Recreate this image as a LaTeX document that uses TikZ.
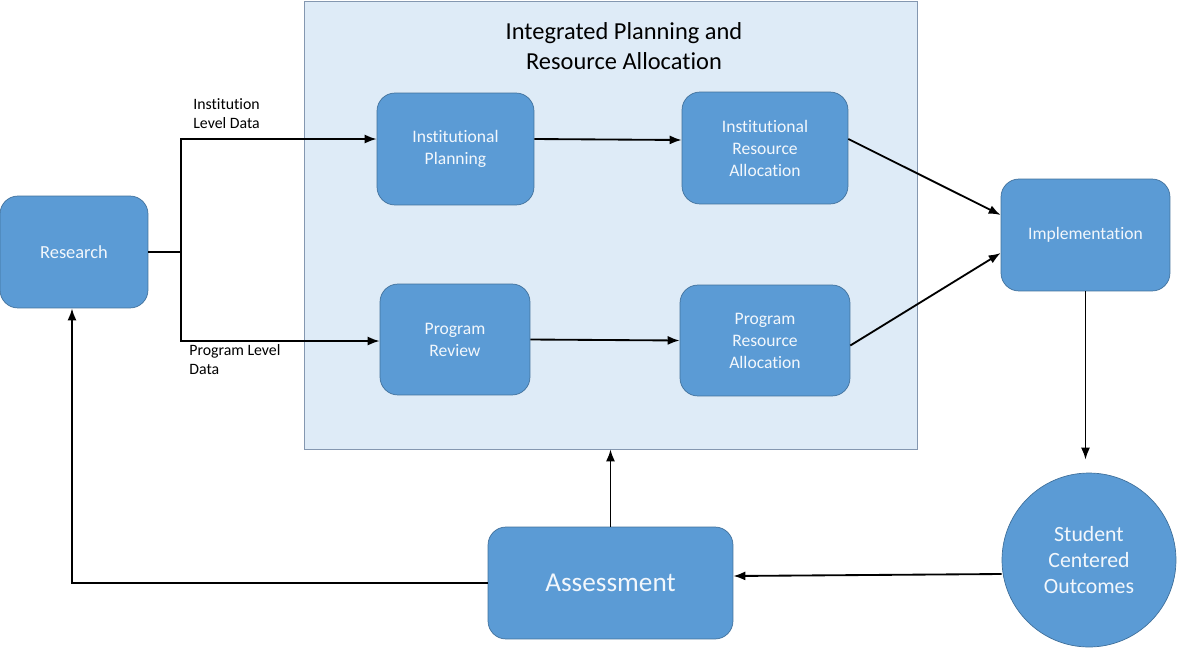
\documentclass[tikz,border=0pt]{standalone}
\usepackage{fontspec}
\setmainfont{Carlito}[Ligatures=NoCommon]
\usetikzlibrary{arrows.meta}
\definecolor{boxblue}{HTML}{5B9BD5}
\definecolor{boxline}{HTML}{41719C}
\definecolor{panel}{HTML}{DEEBF7}
\definecolor{panelline}{HTML}{8497B0}
\definecolor{boxtext}{HTML}{F2F7FC}
\tikzset{
  blk/.style={draw=boxline, fill=boxblue, rounded corners=0.36cm, minimum height=2.24cm,
    text=boxtext, align=center, font=\fontsize{10}{12.5}\selectfont},
  lbl/.style={align=left, anchor=north west, inner sep=0pt, font=\fontsize{9}{10.8}\selectfont},
  conn/.style={line width=1.05pt}
}
\begin{document}
\begin{tikzpicture}[x=0.02cm, y=-0.02cm, >={Latex[length=2.4mm,width=1.8mm]}]
\useasboundingbox (0,0) rectangle (1178,647);
% planning panel
\node[draw=panelline, fill=panel, minimum width=12.26cm, minimum height=8.96cm, inner sep=0pt] (panel) at (610.5,225) {};
\node[align=center, font=\fontsize{13.9}{17}\selectfont] (title) at (624,46) {Integrated Planning and\\Resource Allocation};

% boxes
\node[blk, minimum width=2.96cm, font=\fontsize{10.5}{12.5}\selectfont] (res) at (74,252) {Research};
\node[blk, minimum width=3.14cm] (ipl) at (455.5,149) {Institutional\\Planning};
\node[blk, minimum width=3.32cm] (ira) at (765,148) {Institutional\\Resource\\Allocation};
\node[blk, minimum width=3.0cm, minimum height=2.22cm] (prv) at (455,339.5) {Program\\Review};
\node[blk, minimum width=3.4cm, minimum height=2.22cm] (pra) at (765,340.5) {Program\\Resource\\Allocation};
\node[blk, minimum width=3.38cm] (imp) at (1085.5,235) {Implementation};
\node[draw=boxline, fill=boxblue, circle, minimum size=3.48cm, text=boxtext, align=center,
  font=\fontsize{12.4}{14.7}\selectfont] (sco) at (1089,560) {Student\\Centered\\Outcomes};
\node[blk, minimum width=4.9cm, font=\fontsize{15.5}{18}\selectfont] (asm) at (610.5,583) {Assessment};

% data labels
\node[lbl] (ild) at (193,98) {Institution\\Level Data};
\node[lbl] (pld) at (189,344) {Program Level\\Data};

% research split
\coordinate (split) at (181,252);
\draw[conn] (res.east) -- (split);
\draw[conn,->] (split) |- ([yshift=0.2cm]ipl.west);
\draw[conn,->] (split) |- ([yshift=-0.03cm]prv.west);

% planning to allocation
\draw[conn,->] ([yshift=0.2cm]ipl.east) -- ([yshift=0.16cm]ira.west);
\draw[conn,->] (prv.east) -- (pra.west);

% allocation to implementation
\draw[conn,->] ([yshift=0.18cm]ira.east) -- ([yshift=0.4cm]imp.west);
\draw[conn,->] ([yshift=-0.1cm]pra.east) -- ([yshift=-0.36cm]imp.west);

% outcomes loop
\draw[conn,->] (imp.south) -- ([yshift=0.26cm]sco.north -| imp.south);
\draw[conn,->] ([yshift=-0.28cm]sco.west) -- ([yshift=0.14cm]asm.east);
\draw[conn,->] (asm.north) -- (asm.north |- panel.south);
\draw[conn,->] (asm.west) -| ([xshift=-0.04cm]res.south);
\end{tikzpicture}
\end{document}
